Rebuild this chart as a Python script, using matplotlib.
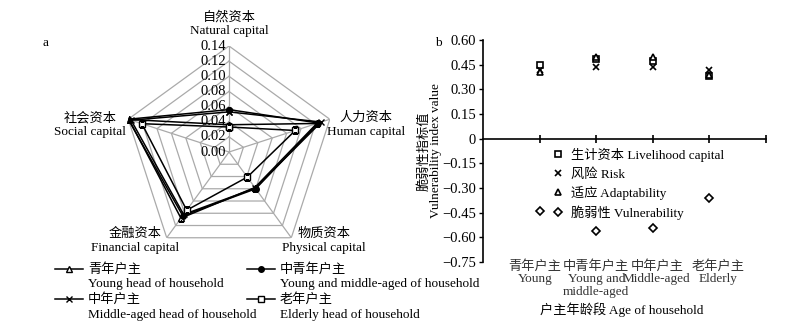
#coding=utf-8
import numpy as np
import matplotlib
matplotlib.use('Agg')
from matplotlib import pyplot as plt
from matplotlib.lines import Line2D
from matplotlib.legend_handler import HandlerLine2D
from matplotlib.transforms import offset_copy

plt.rcParams['font.family'] = ['Liberation Serif', 'Noto Sans CJK SC', 'DejaVu Sans']
plt.rcParams['font.size'] = 9.5
plt.rcParams['axes.unicode_minus'] = True

# ---- data: chart a (radar), axes in clockwise order from the top
cap_cn = ['自然资本', '人力资本', '物质资本', '金融资本', '社会资本']
cap_en = ['Natural capital', 'Human capital', 'Physical capital', 'Financial capital', 'Social capital']
young = [0.036, 0.122, 0.058, 0.108, 0.139]
young_mid = [0.056, 0.124, 0.060, 0.104, 0.140]
middle = [0.053, 0.128, 0.059, 0.102, 0.136]
elderly = [0.033, 0.092, 0.041, 0.095, 0.121]
radar_names = ['青年户主\nYoung head of household',
               '中青年户主\nYoung and middle-aged of household',
               '中年户主\nMiddle-aged head of household',
               '老年户主\nElderly head of household']
radar_ticks = [0.00, 0.02, 0.04, 0.06, 0.08, 0.10, 0.12, 0.14]

# ---- data: chart b (vulnerability indices)
groups_cn = ['青年户主', '中青年户主', '中年户主', '老年户主']
groups_en = ['Young', 'Young and\nmiddle-aged', 'Middle-aged', 'Elderly']
livelihood = [0.447, 0.486, 0.474, 0.382]
risk = [0.415, 0.433, 0.433, 0.420]
adapt = [0.407, 0.497, 0.494, 0.388]
vuln = [-0.437, -0.560, -0.543, -0.358]
b_yticks = [0.60, 0.45, 0.30, 0.15, 0, -0.15, -0.30, -0.45, -0.60, -0.75]
b_ylabels = ['0.60', '0.45', '0.30', '0.15', '0', '\u22120.15', '\u22120.30',
             '\u22120.45', '\u22120.60', '\u22120.75']

fig = plt.figure(figsize=(8.04, 3.27), dpi=100)

# ================= chart a =================
ax = fig.add_axes([0.153, 0.211, 0.2637, 0.6483], projection='polar')
ax.set_theta_offset(np.pi / 2)
ax.set_theta_direction(-1)
ax.set_ylim(0, 0.14)
ax.set_axis_off()

ang = np.linspace(0, 2 * np.pi, 5, endpoint=False)
ang_c = np.append(ang, ang[0])
grid_c = '#aaaaaa'
for lv in radar_ticks[1:]:
    ax.plot(ang_c, [lv] * 6, color=grid_c, lw=0.9, zorder=1)
for a in ang:
    ax.plot([a, a], [0, 0.14], color=grid_c, lw=0.9, zorder=1)

lab_tr = offset_copy(ax.transData, fig=fig, x=-2, y=0, units='points')
for lv in radar_ticks:
    ax.text(0, lv, '%.2f' % lv, ha='right', va='center', transform=lab_tr,
            fontsize=10.5, zorder=2)

styles = [('^', 'white'), ('o', 'black'), ('x', 'black'), ('s', 'white')]
series = [young, young_mid, middle, elderly]
handles = []
for vals, (mk, fc) in zip(series, styles):
    h, = ax.plot(ang_c, list(vals) + [vals[0]], color='black', lw=1.1,
                 marker=mk, ms=4, mfc=fc, mec='black', mew=1.0, zorder=3)
    handles.append(h)

# axis labels of the radar
lab_pos = [(0.5, 1.105), (1.146, 0.627), (0.948, 0.08), (0.057, 0.08), (-0.156, 0.627)]
for (px, py), cn, en in zip(lab_pos, cap_cn, cap_en):
    ax.text(px, py, cn + '\n' + en, transform=ax.transAxes, ha='center', va='center',
            linespacing=1.2)

fig.text(43 / 804, 1 - 43 / 327, 'a', ha='left', va='center')


class UpperHandler(HandlerLine2D):
    # keep the legend line at the level of the first (Chinese) text row
    def create_artists(self, legend, orig_handle, xdescent, ydescent, width,
                       height, fontsize, trans):
        arts = super().create_artists(legend, orig_handle, xdescent, ydescent,
                                      width, height, fontsize, trans)
        for art in arts:
            art.set_ydata(np.asarray(art.get_ydata()) + 0.6 * fontsize)
        return arts


leg_kw = dict(loc='upper left', frameon=False, borderpad=0, borderaxespad=0,
              handlelength=2.1, handletextpad=0.4, labelspacing=0.2,
              handler_map={Line2D: UpperHandler()})
legs = [fig.legend([handles[0], handles[2]], [radar_names[0], radar_names[2]],
                   bbox_to_anchor=(55 / 804, 1 - 263 / 327), **leg_kw),
        fig.legend([handles[1], handles[3]], [radar_names[1], radar_names[3]],
                   bbox_to_anchor=(247 / 804, 1 - 263 / 327), **leg_kw)]
for lg in legs:
    for t in lg.get_texts():
        t.set_linespacing(1.3)

# ================= chart b =================
bx = fig.add_axes([483 / 804, 1 - 262 / 327, 283 / 804, 222 / 327])
xpos = np.arange(1, len(groups_cn) + 1)
bx.plot(xpos, livelihood, ls='none', marker='s', ms=4.5, mfc='white', mec='black', mew=1.2,
        label='生计资本 Livelihood capital')
bx.plot(xpos, risk, ls='none', marker='x', ms=4.5, mec='black', mew=1.2, label='风险 Risk')
bx.plot(xpos, adapt, ls='none', marker='^', ms=4.5, mfc='white', mec='black', mew=1.2,
        label='适应 Adaptability')
bx.plot(xpos, vuln, ls='none', marker='D', ms=3.8, mfc='white', mec='black', mew=1.2,
        label='脆弱性 Vulnerability')

bx.set_xlim(0, 5)
bx.set_ylim(-0.75, 0.60)
bx.spines['top'].set_visible(False)
bx.spines['right'].set_visible(False)
bx.spines['bottom'].set_position(('data', 0))
for s in ('left', 'bottom'):
    bx.spines[s].set_linewidth(1.2)
bx.set_yticks(b_yticks)
bx.set_yticklabels(b_ylabels)
bx.set_xticks(np.arange(1, 6))
bx.set_xticklabels([])
bx.tick_params(axis='y', direction='out', length=3, width=1.0, pad=2, labelsize=10.5)
bx.tick_params(axis='x', direction='inout', length=6, width=1.2)

label_x = [0.92, 2.0, 3.07, 4.15]
for x, cn, en in zip(label_x, groups_cn, groups_en):
    bx.text(x, -0.738, cn + '\n' + en, ha='center', va='top', linespacing=1.05,
            color='#333333', clip_on=False)

bx.set_ylabel('脆弱性指标值\nVulnerability index value', linespacing=1.0, labelpad=0)
fig.text(622 / 804, 1 - 310 / 327, '户主年龄段 Age of household', ha='center', va='center')
fig.text(438 / 804, 1 - 43 / 327, 'b', ha='center', va='center')

bx.legend(loc='upper left', bbox_to_anchor=(553 / 804, 1 - 148 / 327),
          bbox_transform=fig.transFigure, frameon=False, borderpad=0, borderaxespad=0,
          handlelength=0.8, handletextpad=0.6, labelspacing=0.42)

fig.savefig('out.png', dpi=100)
